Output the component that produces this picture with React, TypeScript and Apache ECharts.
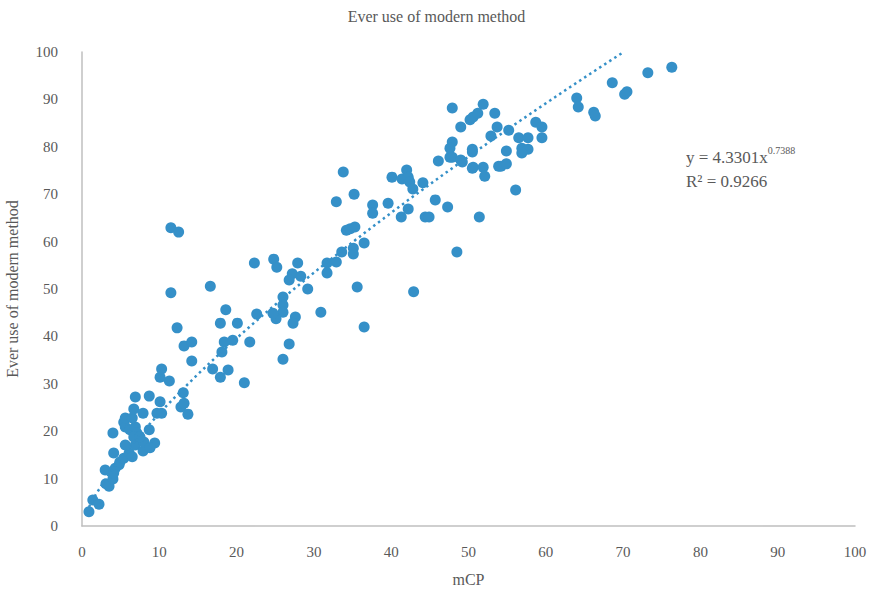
import React, { useEffect, useRef } from "react";
import * as echarts from "echarts";

const chartTitle = "Ever use of modern method";
const xAxisName = "mCP";
const yAxisName = "Ever use of modern method";
const xTicks = [0, 10, 20, 30, 40, 50, 60, 70, 80, 90, 100];
const yTicks = [0, 10, 20, 30, 40, 50, 60, 70, 80, 90, 100];

// mCP values
const mcp = [
  0.9, 1.4, 2.2, 3.1, 3.5, 3.0, 4.0, 4.1, 4.3, 4.8, 4.9, 5.4, 4.1, 6.1, 6.5, 5.6, 6.9, 7.9, 4.0, 5.4,
  5.6, 6.2, 6.9, 7.1, 6.7, 8.0, 8.7, 9.4, 5.6, 6.5, 7.9, 6.7, 6.9, 8.7, 10.1, 9.7, 10.3, 10.1, 10.3, 11.3,
  8.8, 7.5, 11.5, 12.5, 11.5, 12.3, 13.2, 14.2, 14.2, 13.1, 12.8, 13.2, 13.7, 16.6, 16.9, 17.9, 18.9, 17.9, 18.6, 18.4,
  18.1, 19.5, 20.1, 21.7, 21.0, 22.3, 22.6, 24.8, 25.2, 26.0, 26.0, 26.0, 25.1, 24.7, 27.6, 27.3, 26.8, 26.0, 27.9, 27.2,
  26.8, 28.3, 29.2, 30.9, 31.7, 31.7, 32.9, 33.6, 34.2, 34.7, 35.3, 35.1, 35.1, 36.5, 35.6, 36.5, 32.9, 33.8, 35.2, 37.6,
  37.6, 39.6, 40.1, 41.4, 42.0, 42.2, 42.4, 42.8, 41.3, 42.2, 44.1, 45.7, 44.4, 44.9, 47.3, 48.5, 51.4, 42.9, 46.1, 47.6,
  49.2, 50.6, 51.9, 52.1, 53.9, 50.5, 47.9, 49.0, 50.2, 50.6, 51.2, 51.9, 53.4, 53.7, 52.9, 55.2, 56.5, 57.7, 58.7, 59.5,
  59.5, 54.9, 56.9, 57.7, 56.9, 47.9, 47.6, 47.9, 49.0, 50.5, 50.5, 54.2, 54.9, 56.1, 64.0, 64.2, 66.2, 66.4, 68.6, 70.5,
  70.2, 73.2, 76.3,
];
// Ever use of modern method values
const everUse = [
  3.0, 5.5, 4.6, 8.9, 8.4, 11.8, 9.9, 11.2, 12.2, 12.9, 13.5, 14.3, 15.4, 15.4, 14.6, 17.1, 17.1, 15.8, 19.6, 21.9,
  20.9, 20.3, 20.9, 19.6, 18.8, 17.7, 20.3, 17.5, 22.8, 22.8, 23.8, 24.7, 27.2, 27.4, 26.2, 23.8, 23.8, 31.4, 33.1, 30.6,
  16.5, 18.8, 62.9, 62.0, 49.2, 41.8, 38.0, 38.8, 34.8, 28.1, 25.1, 25.9, 23.6, 50.6, 33.1, 31.4, 32.9, 42.8, 45.6, 38.8,
  36.7, 39.2, 42.8, 38.8, 30.2, 55.5, 44.7, 56.3, 54.6, 48.3, 46.6, 45.1, 43.7, 44.9, 44.1, 42.8, 38.4, 35.2, 55.5, 53.2,
  51.9, 52.7, 50.0, 45.1, 55.5, 53.4, 55.7, 57.8, 62.4, 62.7, 63.1, 58.6, 57.4, 59.7, 50.4, 42.0, 68.4, 74.7, 70.0, 67.7,
  66.0, 68.1, 73.6, 73.2, 75.1, 73.6, 72.6, 71.1, 65.2, 66.9, 72.4, 68.8, 65.2, 65.2, 67.3, 57.8, 65.2, 49.4, 77.0, 77.8,
  76.8, 75.7, 75.7, 73.8, 75.9, 78.9, 88.2, 84.2, 85.7, 86.3, 87.1, 89.0, 87.1, 84.2, 82.3, 83.5, 81.9, 81.9, 85.2, 84.2,
  81.9, 79.1, 79.7, 79.5, 78.7, 81.0, 79.7, 77.8, 77.2, 79.5, 75.5, 75.9, 76.4, 70.9, 90.3, 88.4, 87.3, 86.5, 93.5, 91.6,
  91.1, 95.6, 96.8,
];

// Power trendline as printed on the chart: y = 4.3301 x^0.7388
const trendCoef = 4.3301;
const trendExp = 0.7388;
const trendLabel = "y = 4.3301x";
const trendExpLabel = "0.7388";
const r2Label = "R² = 0.9266";

const FONT = "'Liberation Serif', 'DejaVu Serif', serif";
const TEXT_COLOR = "#595959";
const DOT_COLOR = "#3590c8";

export default function App() {
  const ref = useRef<HTMLDivElement>(null);
  useEffect(() => {
    if (!ref.current) return;
    const chart = echarts.init(ref.current, null, { renderer: "svg" });
    const points = mcp.map((x, i) => [x, everUse[i]]);
    const xMin = Math.min(...mcp);
    const xEnd = Math.pow(100 / trendCoef, 1 / trendExp);
    const trend: number[][] = [];
    const steps = 80;
    for (let i = 0; i <= steps; i++) {
      const x = xMin + ((xEnd - xMin) * i) / steps;
      trend.push([x, trendCoef * Math.pow(x, trendExp)]);
    }
    chart.setOption({
      animation: false,
      backgroundColor: "#ffffff",
      title: {
        text: chartTitle,
        left: "center",
        top: 3,
        textStyle: { fontFamily: FONT, fontSize: 16, fontWeight: "normal", color: TEXT_COLOR },
      },
      grid: { left: 82, right: 18, top: 52, bottom: 68, containLabel: false, outerBoundsMode: "none" },
      xAxis: {
        type: "value",
        min: xTicks[0],
        max: xTicks[xTicks.length - 1],
        interval: 10,
        name: xAxisName,
        nameLocation: "middle",
        nameGap: 45,
        nameTextStyle: { fontFamily: FONT, fontSize: 16, color: TEXT_COLOR },
        axisLine: { show: true, lineStyle: { color: "#bfbfbf", width: 1.5 } },
        axisTick: { show: false },
        splitLine: { show: false },
        axisLabel: { fontFamily: FONT, fontSize: 15, color: TEXT_COLOR, margin: 18 },
      },
      yAxis: {
        type: "value",
        min: yTicks[0],
        max: yTicks[yTicks.length - 1],
        interval: 10,
        name: yAxisName,
        nameLocation: "middle",
        nameGap: 62,
        nameTextStyle: { fontFamily: FONT, fontSize: 16, color: TEXT_COLOR },
        axisLine: { show: true, lineStyle: { color: "#bfbfbf", width: 1.5 } },
        axisTick: { show: false },
        splitLine: { show: false },
        axisLabel: { fontFamily: FONT, fontSize: 15, color: TEXT_COLOR, margin: 24 },
      },
      graphic: [
        {
          type: "text",
          left: 686,
          top: 145,
          style: {
            text: `{a|${trendLabel}}{b|${trendExpLabel}}`,
            rich: {
              a: { fontFamily: FONT, fontSize: 17, fill: TEXT_COLOR, verticalAlign: "bottom" },
              b: { fontFamily: FONT, fontSize: 10, fill: TEXT_COLOR, verticalAlign: "top", padding: [0, 0, 11, 0] },
            },
          },
        },
        {
          type: "text",
          left: 686,
          top: 173,
          style: { text: r2Label, fontFamily: FONT, fontSize: 17, fill: TEXT_COLOR },
        },
      ],
      series: [
        {
          type: "scatter",
          data: points,
          symbolSize: 11,
          itemStyle: { color: DOT_COLOR, opacity: 1 },
          z: 2,
        },
        {
          type: "line",
          data: trend,
          showSymbol: false,
          smooth: false,
          lineStyle: { color: "#3590c8", width: 2.5, type: [2.5, 3.5] },
          z: 3,
        },
      ],
    });
    return () => chart.dispose();
  }, []);
  return (
    <div
      ref={ref}
      style={{ position: "absolute", left: 0, top: 0, width: 873, height: 594 }}
    />
  );
}
